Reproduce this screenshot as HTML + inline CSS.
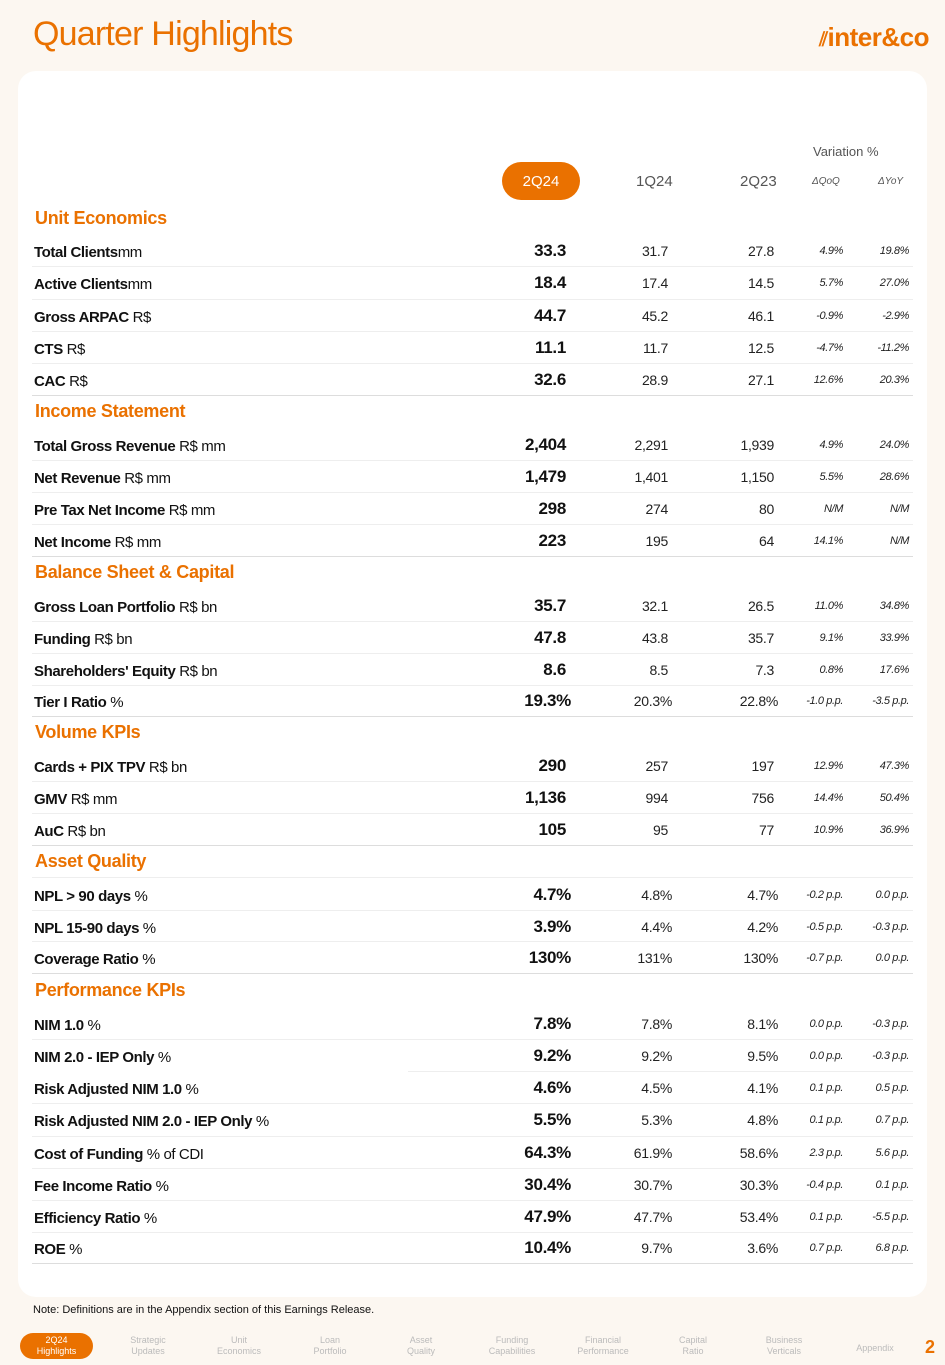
<!DOCTYPE html>
<html><head><meta charset="utf-8"><style>
*{margin:0;padding:0;box-sizing:border-box}
body{width:945px;height:1365px;background:#fcf7f1;position:relative;overflow:hidden;font-family:"Liberation Sans",sans-serif;color:#111}
.title{position:absolute;left:33px;top:15px;font-size:34px;color:#ea7100;letter-spacing:-0.8px}
.logo{position:absolute;right:16px;top:22px;font-size:26px;font-weight:bold;color:#ea7100;letter-spacing:-0.5px}
.card{position:absolute;left:18px;top:71px;width:909px;height:1226px;background:#fff;border-radius:18px}
.r{position:absolute;left:34px;width:879px;height:22px;line-height:22px}
.r span{position:absolute;top:0}
.lab{left:0;font-size:15px;font-weight:bold;letter-spacing:-0.4px;top:2px!important}
.lab i{font-style:normal;font-weight:normal}
.a{right:347px;font-size:17px;font-weight:bold;letter-spacing:-0.3px}
.b{right:245px;font-size:14px;color:#222;letter-spacing:-0.3px}
.c{right:139px;font-size:14px;color:#222;letter-spacing:-0.3px}
.d{right:70px;font-size:11px;font-style:italic;color:#222;letter-spacing:-0.4px}
.e{right:4px;font-size:11px;font-style:italic;color:#222;letter-spacing:-0.4px}
.sec{position:absolute;left:35px;font-size:18px;font-weight:bold;color:#ea7100;letter-spacing:-0.3px}
.ln{position:absolute;left:32px;width:881px;height:1px;background:#eee}
.ln.f{background:#ddd}
.hdr{position:absolute;font-size:14px;color:#555}
.pill{position:absolute;left:502px;top:162px;width:78px;height:38px;border-radius:19px;background:#ea7100;color:#fff;font-size:15px;line-height:40px;text-align:center}
.note{position:absolute;left:33px;top:1304px;font-size:11px;color:#111}
.nav{position:absolute;top:1335px;font-size:9px;color:#bbb;text-align:center;line-height:11px}
.navon{position:absolute;left:20px;top:1333px;width:73px;height:26px;border-radius:13px;background:#ea7100;color:#fff;font-size:9px;text-align:center;line-height:11px;padding-top:2px}
.pg{position:absolute;left:925px;top:1337px;font-size:18px;font-weight:bold;color:#ea7100}
</style></head><body>
<div class="title">Quarter Highlights</div>
<div class="logo"><span style="font-size:20px">⫽</span>inter&amp;co</div>
<div class="card"></div>
<div class="hdr" style="left:813px;top:144px;font-size:13px">Variation %</div>
<div class="pill">2Q24</div>
<div class="hdr" style="left:636px;top:173px;font-size:15px">1Q24</div>
<div class="hdr" style="left:740px;top:173px;font-size:15px">2Q23</div>
<div class="hdr" style="left:812px;top:176px;font-size:10px;font-style:italic">ΔQoQ</div>
<div class="hdr" style="left:878px;top:176px;font-size:10px;font-style:italic">ΔYoY</div>

<div class="sec" style="top:208px">Unit Economics</div>
<div class="r" style="top:240px"><span class="lab">Total Clients<i>mm</i></span><span class="a">33.3</span><span class="b">31.7</span><span class="c">27.8</span><span class="d">4.9%</span><span class="e">19.8%</span></div>
<div class="ln" style="top:266px"></div>
<div class="r" style="top:272px"><span class="lab">Active Clients<i>mm</i></span><span class="a">18.4</span><span class="b">17.4</span><span class="c">14.5</span><span class="d">5.7%</span><span class="e">27.0%</span></div>
<div class="ln" style="top:299px"></div>
<div class="r" style="top:305px"><span class="lab">Gross ARPAC <i>R$</i></span><span class="a">44.7</span><span class="b">45.2</span><span class="c">46.1</span><span class="d">-0.9%</span><span class="e">-2.9%</span></div>
<div class="ln" style="top:331px"></div>
<div class="r" style="top:337px"><span class="lab">CTS <i>R$</i></span><span class="a">11.1</span><span class="b">11.7</span><span class="c">12.5</span><span class="d">-4.7%</span><span class="e">-11.2%</span></div>
<div class="ln" style="top:363px"></div>
<div class="r" style="top:369px"><span class="lab">CAC <i>R$</i></span><span class="a">32.6</span><span class="b">28.9</span><span class="c">27.1</span><span class="d">12.6%</span><span class="e">20.3%</span></div>
<div class="ln f" style="top:395px"></div>

<div class="sec" style="top:401px">Income Statement</div>
<div class="r" style="top:434px"><span class="lab">Total Gross Revenue <i>R$ mm</i></span><span class="a">2,404</span><span class="b">2,291</span><span class="c">1,939</span><span class="d">4.9%</span><span class="e">24.0%</span></div>
<div class="ln" style="top:460px"></div>
<div class="r" style="top:466px"><span class="lab">Net Revenue <i>R$ mm</i></span><span class="a">1,479</span><span class="b">1,401</span><span class="c">1,150</span><span class="d">5.5%</span><span class="e">28.6%</span></div>
<div class="ln" style="top:492px"></div>
<div class="r" style="top:498px"><span class="lab">Pre Tax Net Income <i>R$ mm</i></span><span class="a">298</span><span class="b">274</span><span class="c">80</span><span class="d">N/M</span><span class="e">N/M</span></div>
<div class="ln" style="top:524px"></div>
<div class="r" style="top:530px"><span class="lab">Net Income <i>R$ mm</i></span><span class="a">223</span><span class="b">195</span><span class="c">64</span><span class="d">14.1%</span><span class="e">N/M</span></div>
<div class="ln f" style="top:556px"></div>

<div class="sec" style="top:562px">Balance Sheet &amp; Capital</div>
<div class="r" style="top:595px"><span class="lab">Gross Loan Portfolio <i>R$ bn</i></span><span class="a">35.7</span><span class="b">32.1</span><span class="c">26.5</span><span class="d">11.0%</span><span class="e">34.8%</span></div>
<div class="ln" style="top:621px"></div>
<div class="r" style="top:627px"><span class="lab">Funding <i>R$ bn</i></span><span class="a">47.8</span><span class="b">43.8</span><span class="c">35.7</span><span class="d">9.1%</span><span class="e">33.9%</span></div>
<div class="ln" style="top:653px"></div>
<div class="r" style="top:659px"><span class="lab">Shareholders' Equity <i>R$ bn</i></span><span class="a">8.6</span><span class="b">8.5</span><span class="c">7.3</span><span class="d">0.8%</span><span class="e">17.6%</span></div>
<div class="ln" style="top:685px"></div>
<div class="r" style="top:690px"><span class="lab">Tier I Ratio <i>%</i></span><span class="a" style="right:342px">19.3%</span><span class="b" style="right:241px">20.3%</span><span class="c" style="right:135px">22.8%</span><span class="d">-1.0 p.p.</span><span class="e">-3.5 p.p.</span></div>
<div class="ln f" style="top:716px"></div>

<div class="sec" style="top:722px">Volume KPIs</div>
<div class="r" style="top:755px"><span class="lab">Cards + PIX TPV <i>R$ bn</i></span><span class="a">290</span><span class="b">257</span><span class="c">197</span><span class="d">12.9%</span><span class="e">47.3%</span></div>
<div class="ln" style="top:781px"></div>
<div class="r" style="top:787px"><span class="lab">GMV <i>R$ mm</i></span><span class="a">1,136</span><span class="b">994</span><span class="c">756</span><span class="d">14.4%</span><span class="e">50.4%</span></div>
<div class="ln" style="top:813px"></div>
<div class="r" style="top:819px"><span class="lab">AuC <i>R$ bn</i></span><span class="a">105</span><span class="b">95</span><span class="c">77</span><span class="d">10.9%</span><span class="e">36.9%</span></div>
<div class="ln f" style="top:845px"></div>

<div class="sec" style="top:851px">Asset Quality</div>
<div class="ln" style="top:877px"></div>
<div class="r" style="top:884px"><span class="lab">NPL &gt; 90 days <i>%</i></span><span class="a" style="right:342px">4.7%</span><span class="b" style="right:241px">4.8%</span><span class="c" style="right:135px">4.7%</span><span class="d">-0.2 p.p.</span><span class="e">0.0 p.p.</span></div>
<div class="ln" style="top:910px"></div>
<div class="r" style="top:916px"><span class="lab">NPL 15-90 days <i>%</i></span><span class="a" style="right:342px">3.9%</span><span class="b" style="right:241px">4.4%</span><span class="c" style="right:135px">4.2%</span><span class="d">-0.5 p.p.</span><span class="e">-0.3 p.p.</span></div>
<div class="ln" style="top:941px"></div>
<div class="r" style="top:947px"><span class="lab">Coverage Ratio <i>%</i></span><span class="a" style="right:342px">130%</span><span class="b" style="right:241px">131%</span><span class="c" style="right:135px">130%</span><span class="d">-0.7 p.p.</span><span class="e">0.0 p.p.</span></div>
<div class="ln f" style="top:973px"></div>

<div class="sec" style="top:980px">Performance KPIs</div>
<div class="r" style="top:1013px"><span class="lab">NIM 1.0 <i>%</i></span><span class="a" style="right:342px">7.8%</span><span class="b" style="right:241px">7.8%</span><span class="c" style="right:135px">8.1%</span><span class="d">0.0 p.p.</span><span class="e">-0.3 p.p.</span></div>
<div class="ln" style="top:1039px"></div>
<div class="r" style="top:1045px"><span class="lab">NIM 2.0 - IEP Only <i>%</i></span><span class="a" style="right:342px">9.2%</span><span class="b" style="right:241px">9.2%</span><span class="c" style="right:135px">9.5%</span><span class="d">0.0 p.p.</span><span class="e">-0.3 p.p.</span></div>
<div class="ln" style="top:1071px;left:408px;width:505px"></div>
<div class="r" style="top:1077px"><span class="lab">Risk Adjusted NIM 1.0 <i>%</i></span><span class="a" style="right:342px">4.6%</span><span class="b" style="right:241px">4.5%</span><span class="c" style="right:135px">4.1%</span><span class="d">0.1 p.p.</span><span class="e">0.5 p.p.</span></div>
<div class="ln" style="top:1103px"></div>
<div class="r" style="top:1109px"><span class="lab">Risk Adjusted NIM 2.0 - IEP Only <i>%</i></span><span class="a" style="right:342px">5.5%</span><span class="b" style="right:241px">5.3%</span><span class="c" style="right:135px">4.8%</span><span class="d">0.1 p.p.</span><span class="e">0.7 p.p.</span></div>
<div class="ln" style="top:1136px"></div>
<div class="r" style="top:1142px"><span class="lab">Cost of Funding <i>% of CDI</i></span><span class="a" style="right:342px">64.3%</span><span class="b" style="right:241px">61.9%</span><span class="c" style="right:135px">58.6%</span><span class="d">2.3 p.p.</span><span class="e">5.6 p.p.</span></div>
<div class="ln" style="top:1168px"></div>
<div class="r" style="top:1174px"><span class="lab">Fee Income Ratio <i>%</i></span><span class="a" style="right:342px">30.4%</span><span class="b" style="right:241px">30.7%</span><span class="c" style="right:135px">30.3%</span><span class="d">-0.4 p.p.</span><span class="e">0.1 p.p.</span></div>
<div class="ln" style="top:1200px"></div>
<div class="r" style="top:1206px"><span class="lab">Efficiency Ratio <i>%</i></span><span class="a" style="right:342px">47.9%</span><span class="b" style="right:241px">47.7%</span><span class="c" style="right:135px">53.4%</span><span class="d">0.1 p.p.</span><span class="e">-5.5 p.p.</span></div>
<div class="ln" style="top:1232px"></div>
<div class="r" style="top:1237px"><span class="lab">ROE <i>%</i></span><span class="a" style="right:342px">10.4%</span><span class="b" style="right:241px">9.7%</span><span class="c" style="right:135px">3.6%</span><span class="d">0.7 p.p.</span><span class="e">6.8 p.p.</span></div>
<div class="ln f" style="top:1263px"></div>

<div class="note">Note: Definitions are in the Appendix section of this Earnings Release.</div>
<div class="navon">2Q24<br>Highlights</div>
<div class="nav" style="left:118px;width:60px">Strategic<br>Updates</div>
<div class="nav" style="left:209px;width:60px">Unit<br>Economics</div>
<div class="nav" style="left:300px;width:60px">Loan<br>Portfolio</div>
<div class="nav" style="left:391px;width:60px">Asset<br>Quality</div>
<div class="nav" style="left:482px;width:60px">Funding<br>Capabilities</div>
<div class="nav" style="left:568px;width:70px">Financial<br>Performance</div>
<div class="nav" style="left:663px;width:60px">Capital<br>Ratio</div>
<div class="nav" style="left:754px;width:60px">Business<br>Verticals</div>
<div class="nav" style="left:845px;width:60px;top:1343px">Appendix</div>
<div class="pg">2</div>
</body></html>
